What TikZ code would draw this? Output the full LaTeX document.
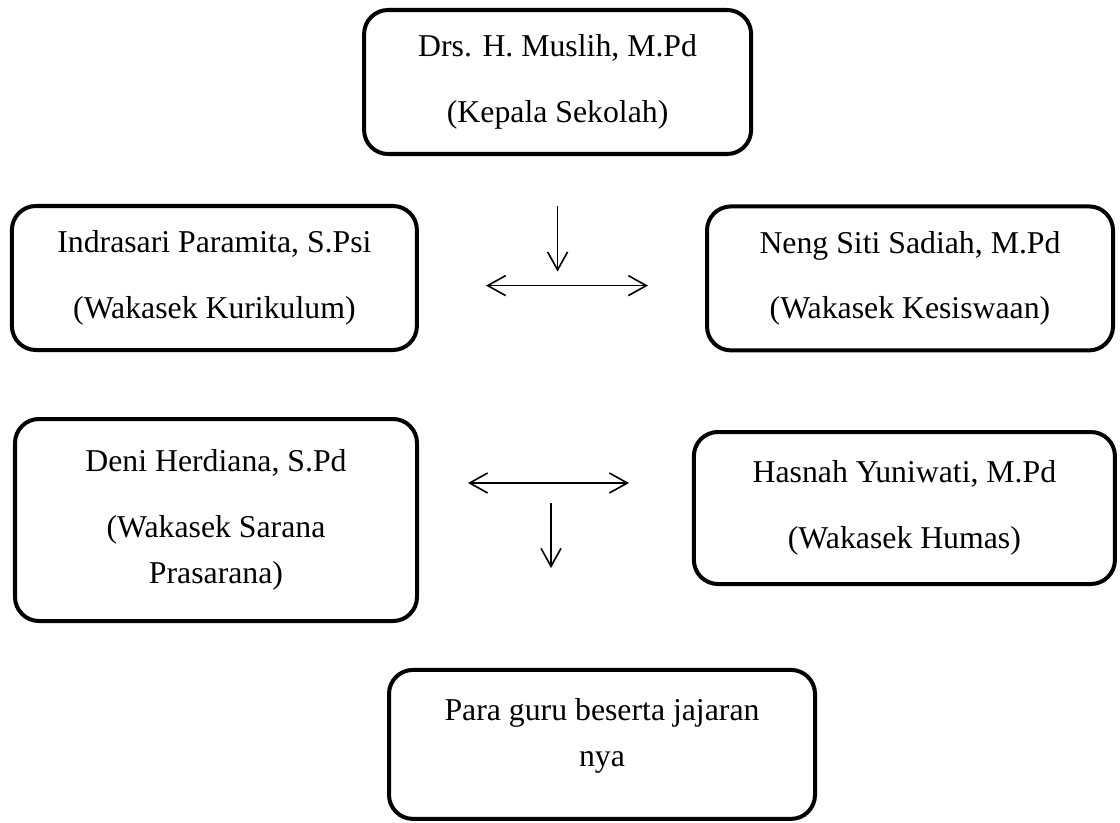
\documentclass[tikz,border=0pt]{standalone}
\usepackage{fontspec}
\setmainfont{Liberation Serif}
\usetikzlibrary{arrows.meta}
\tikzstyle{StaffNode}=[rectangle, rounded corners=0.6cm, draw=black, line width=2.85pt, align=center, font=\fontsize{22.6}{32.6}\selectfont]
\tikzstyle{FlowEdge}=[->, line width=1.15pt]
\tikzstyle{BothEdge}=[FlowEdge, <->]
\tikzset{>={Straight Barb[length=0.45cm, width=0.5cm]}}

\begin{document}
\begin{tikzpicture}
\useasboundingbox (0,0) rectangle (28,-20.55);

\node[StaffNode, minimum width=9.675cm, minimum height=3.6cm](KEPSEK) at (13.94,-2.05) {Drs. H. Muslih, M.Pd\\[0.5cm](Kepala Sekolah)};
\node[StaffNode, minimum width=10.125cm, minimum height=3.6cm](KURIKULUM) at (5.36,-6.95) {Indrasari Paramita, S.Psi\\[0.5cm](Wakasek Kurikulum)};
\node[StaffNode, minimum width=10.15cm, minimum height=3.6cm](KESISWAAN) at (22.75,-6.96) {Neng Siti Sadiah, M.Pd\\[0.5cm](Wakasek Kesiswaan)};
\node[StaffNode, minimum width=10.05cm, minimum height=5.05cm](SARANA) at (5.4,-13.0) {Deni Herdiana, S.Pd\\[0.5cm](Wakasek Sarana\\Prasarana)};
\node[StaffNode, minimum width=10.525cm, minimum height=3.8cm](HUMAS) at (22.61,-12.7) {Hasnah Yuniwati, M.Pd\\[0.5cm](Wakasek Humas)};
\node[StaffNode, minimum width=10.65cm, minimum height=3.725cm](GURU) at (15.05,-18.61) {Para guru beserta jajaran\\nya\rule[-0.6cm]{0pt}{0pt}};

\coordinate (DownA) at (13.94,-5.15);
\coordinate (DownB) at (13.94,-6.79);
\coordinate (MidA) at (12.15,-7.14);
\coordinate (MidB) at (16.2,-7.14);
\coordinate (LowA) at (11.7,-12.075);
\coordinate (LowB) at (15.725,-12.075);
\coordinate (DownC) at (13.775,-12.575);
\coordinate (DownD) at (13.775,-14.2);

\draw[FlowEdge](DownA) -- (DownB);
\draw[BothEdge](MidA) -- (MidB);
\draw[BothEdge](LowA) -- (LowB);
\draw[FlowEdge](DownC) -- (DownD);
\end{tikzpicture}
\end{document}
